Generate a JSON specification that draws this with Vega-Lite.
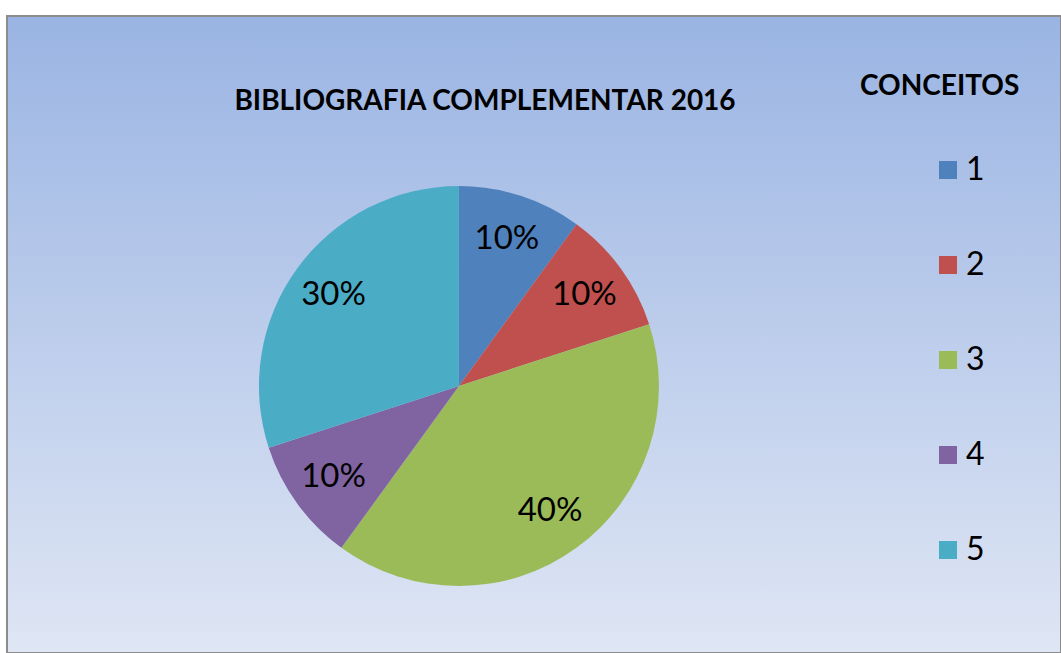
{
  "$schema": "https://vega.github.io/schema/vega-lite/v6.json",
  "width": 1054,
  "height": 637,
  "autosize": {"type": "none"},
  "padding": {"left": 7, "top": 16, "right": 0, "bottom": 0},
  "background": "white",
  "config": {"view": {"stroke": null}},
  "title": {
    "text": "BIBLIOGRAFIA COMPLEMENTAR 2016",
    "font": "Lato",
    "fontSize": 28,
    "fontWeight": "bold",
    "color": "black",
    "anchor": "middle",
    "frame": "group",
    "offset": 0,
    "baseline": "alphabetic",
    "dx": -49,
    "dy": 123
  },
  "layer": [
    {
      "data": {"values": [{}]},
      "mark": {
        "type": "rect",
        "fill": {
          "gradient": "linear",
          "x1": 0, "y1": 0, "x2": 0, "y2": 1,
          "stops": [
            {"offset": 0, "color": "#9ab4e3"},
            {"offset": 1, "color": "#dfe6f4"}
          ]
        },
        "stroke": "#8c8c8c",
        "strokeWidth": 2,
        "x2Offset": 10,
        "y2Offset": 10
      },
      "encoding": {}
    },
    {
      "data": {
        "values": [
          {"conceito": "1", "valor": 10, "rotulo": "10%"},
          {"conceito": "2", "valor": 10, "rotulo": "10%"},
          {"conceito": "3", "valor": 40, "rotulo": "40%"},
          {"conceito": "4", "valor": 10, "rotulo": "10%"},
          {"conceito": "5", "valor": 30, "rotulo": "30%"}
        ]
      },
      "encoding": {
        "theta": {"field": "valor", "type": "quantitative", "stack": true},
        "order": {"field": "conceito", "type": "ordinal"},
        "color": {
          "field": "conceito",
          "type": "nominal",
          "scale": {
            "domain": ["1", "2", "3", "4", "5"],
            "range": ["#4f81bd", "#c0504d", "#9bbb59", "#8064a2", "#4bacc6"]
          },
          "legend": {
            "title": "CONCEITOS",
            "orient": "none",
            "legendX": 853,
            "legendY": 57,
            "titleFont": "Lato",
            "titleFontSize": 28,
            "titleFontWeight": "bold",
            "titleColor": "black",
            "titleLimit": 400,
            "titlePadding": 53,
            "labelFont": "Lato",
            "labelFontSize": 32,
            "labelColor": "black",
            "labelOffset": 2,
            "symbolType": "square",
            "symbolSize": 324,
            "symbolStrokeWidth": 0,
            "symbolOpacity": 1,
            "symbolOffset": 72,
            "rowPadding": 63
          }
        }
      },
      "layer": [
        {
          "mark": {
            "type": "arc",
            "radius": 200,
            "x": {"expr": "width*0.4288"},
            "y": {"expr": "height*0.5809"}
          }
        },
        {
          "mark": {
            "type": "text",
            "radius": 155,
            "x": {"expr": "width*0.4288"},
            "y": {"expr": "height*0.5809"},
            "font": "Lato",
            "fontSize": 33,
            "color": "black",
            "align": "center",
            "baseline": "middle"
          },
          "encoding": {
            "text": {"field": "rotulo"},
            "color": {"value": "black"}
          }
        }
      ]
    }
  ]
}
